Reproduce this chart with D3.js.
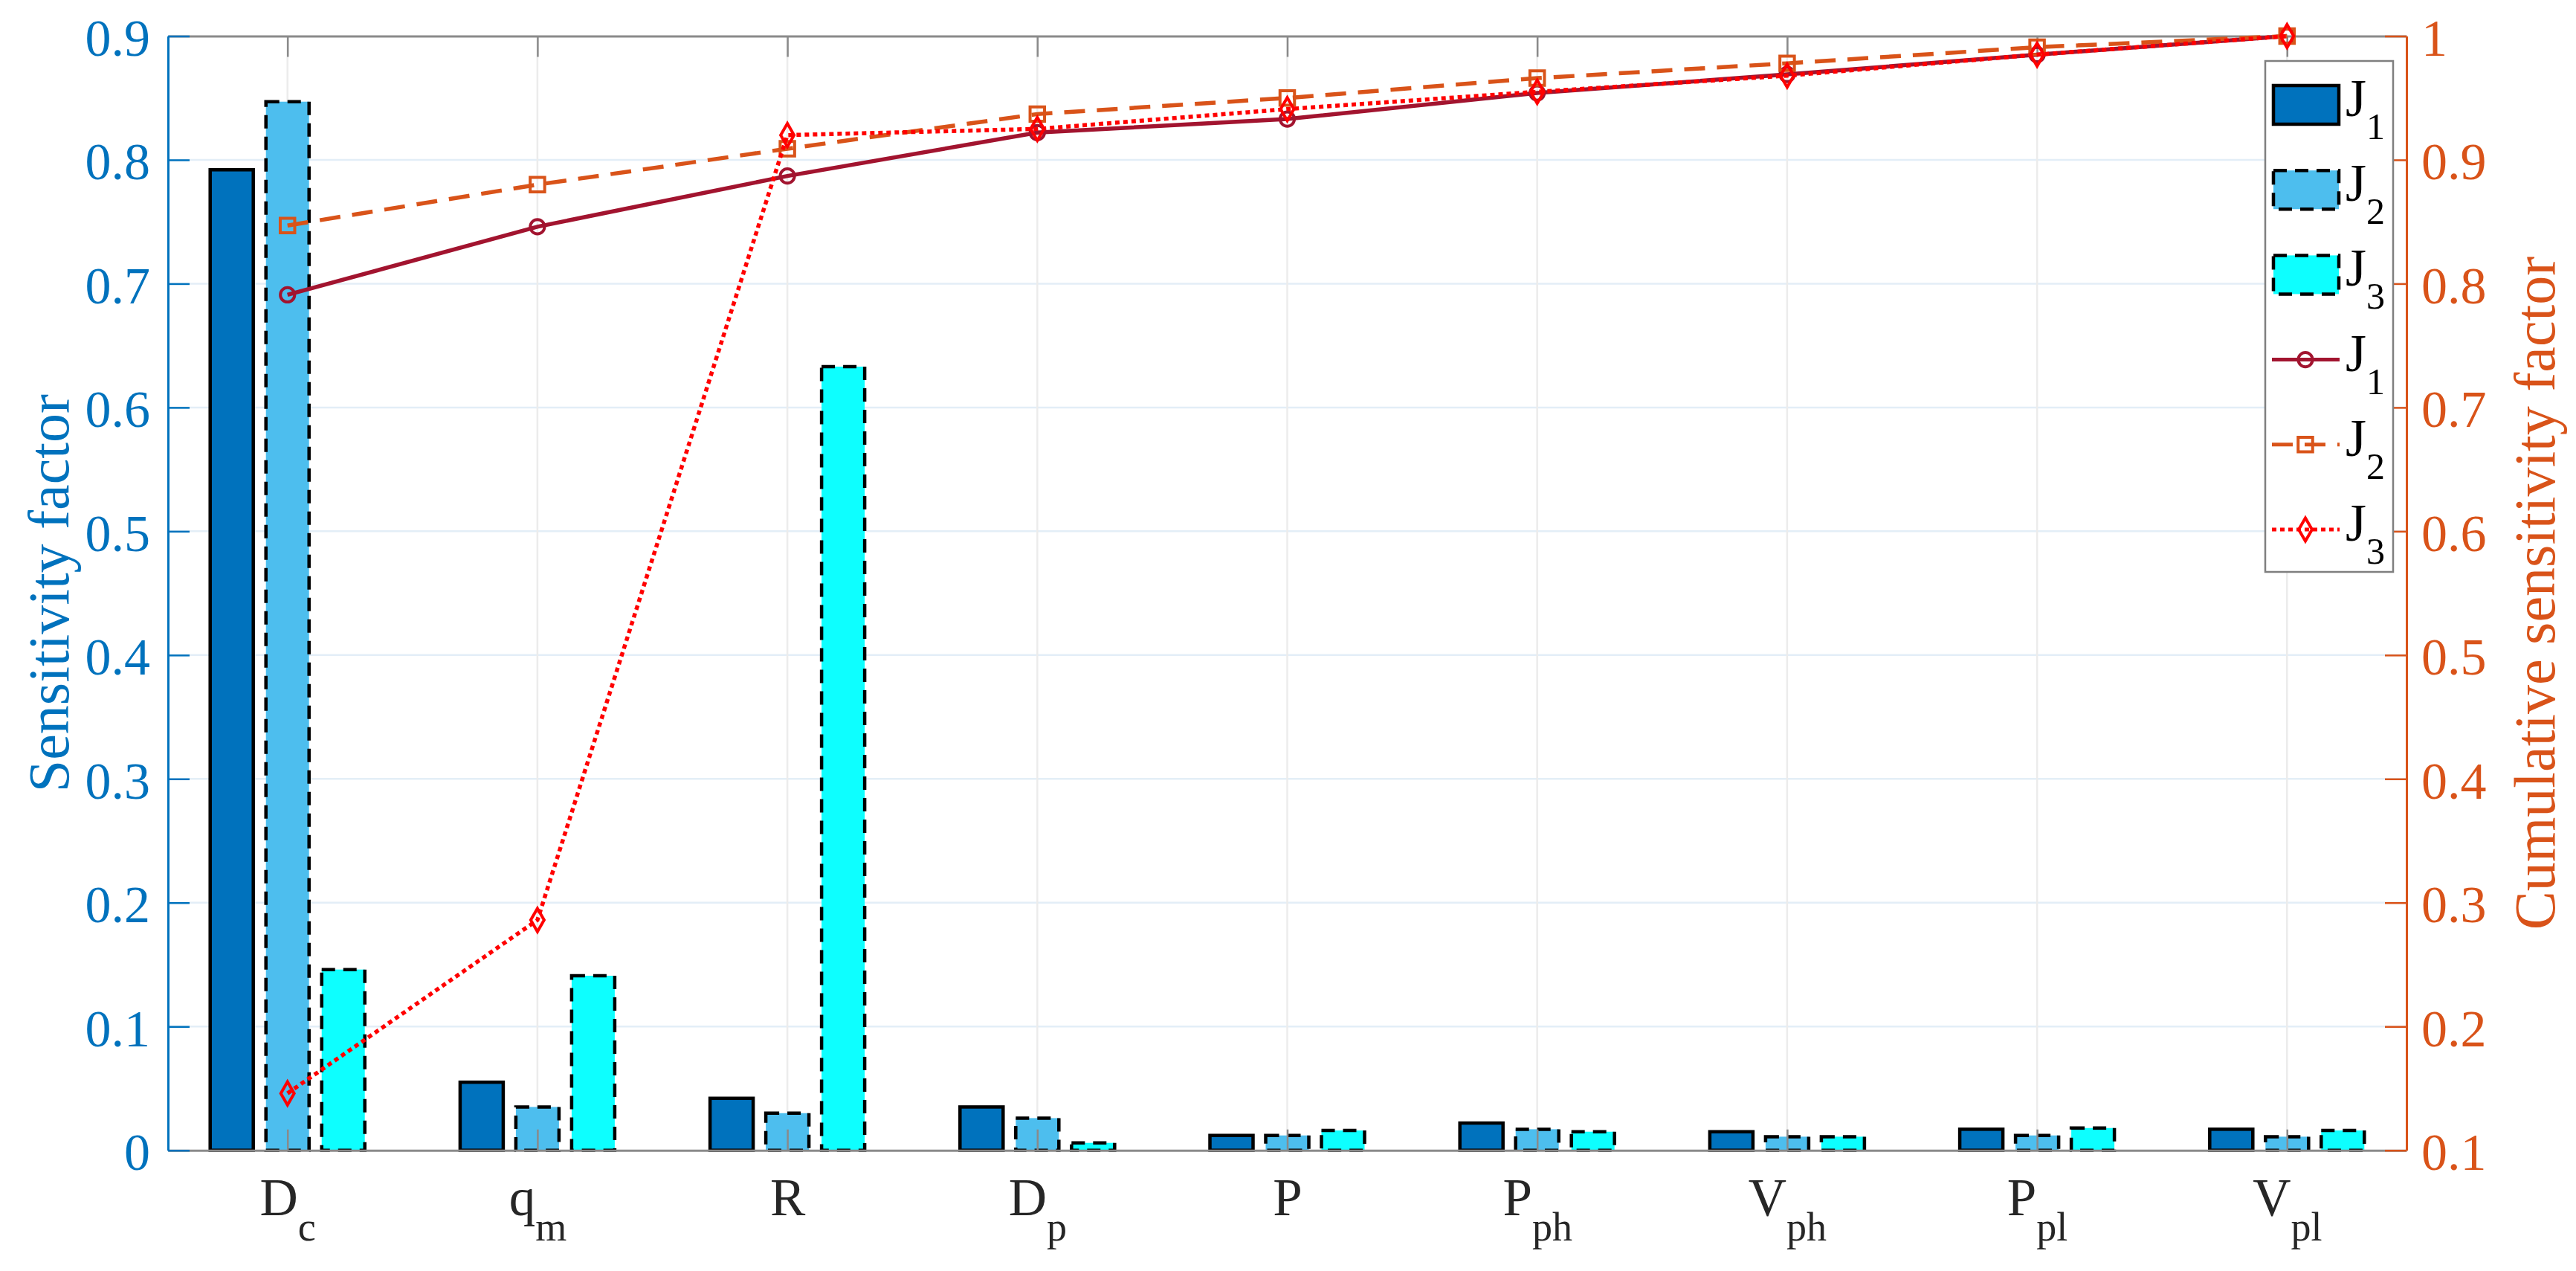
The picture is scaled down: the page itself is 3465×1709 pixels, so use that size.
<!DOCTYPE html>
<html><head><meta charset="utf-8">
<script src="https://cdn.jsdelivr.net/npm/d3@7"></script>
<style>html,body{margin:0;padding:0;background:#fff;} svg{display:block;}</style>
</head><body>
<svg id="chart" width="3465" height="1709"></svg>
<script>
// ---------- data ----------
const categories = ["Dc","qm","R","Dp","P","Pph","Vph","Ppl","Vpl"];
const catMain = ["D","q","R","D","P","P","V","P","V"];
const catSub  = ["c","m","","p","","ph","ph","pl","pl"];
const seriesNames = ["J1","J2","J3"];
const barJ1 = [0.792,0.055,0.042,0.035,0.012,0.022,0.015,0.017,0.017];
const barJ2 = [0.847,0.035,0.030,0.026,0.012,0.017,0.011,0.012,0.011];
const barJ3 = [0.146,0.141,0.633,0.006,0.016,0.015,0.011,0.018,0.016];
const cumJ1 = [0.791,0.846,0.887,0.922,0.933,0.954,0.969,0.985,1.0];
const cumJ2 = [0.847,0.880,0.909,0.937,0.950,0.966,0.978,0.991,1.0];
const cumJ3 = [0.146,0.286,0.920,0.925,0.941,0.955,0.968,0.985,1.0];
const leftTicks = [0,0.1,0.2,0.3,0.4,0.5,0.6,0.7,0.8,0.9];
const rightTicks = [0.1,0.2,0.3,0.4,0.5,0.6,0.7,0.8,0.9,1];
const leftLabel = "Sensitivity factor";
const rightLabel = "Cumulative sensitivity factor";
const legendMain = ["J","J","J","J","J","J"];
const legendSub = ["1","2","3","1","2","3"];

// ---------- layout / style ----------
const FONT = "'Liberation Serif','Times New Roman',serif";
const L = 226, R = 3237, T = 48.5, B = 1546.7;
const C_LEFT = "#0072BD", C_RIGHT = "#D95319", C_AX = "#8a8a8a";
const barFill = {J1:"#0072BD", J2:"#4DBEEE", J3:"#0DFFFF"};
const barDash = {J1:null, J2:"18,11", J3:"18,11"};
const lineColor = {J1:"#A2142F", J2:"#D95319", J3:"#FF0000"};
const lineDash = {J1:null, J2:"28,16", J3:"6,5"};
const lineSymbol = {J1:d3.symbolCircle, J2:d3.symbolSquare, J3:d3.symbolDiamond};
const symSize = {J1:290, J2:380, J3:280};

const barData = {J1:barJ1, J2:barJ2, J3:barJ3};
const cumData = {J1:cumJ1, J2:cumJ2, J3:cumJ3};

const svg = d3.select("#chart");
svg.append("rect").attr("width",3465).attr("height",1709).attr("fill","#fff");

const x = d3.scalePoint().domain(categories).range([L,R]).padding(0.478);
const xSub = d3.scalePoint().domain(seriesNames).range([-75,75]);
const yL = d3.scaleLinear().domain([0,0.9]).range([B,T]);
const yR = d3.scaleLinear().domain([0.1,1]).range([B,T]);
const BW = 58;

// grid
const grid = svg.append("g");
grid.selectAll("line.h").data(leftTicks.filter(d=>d>0 && d<0.9)).join("line")
  .attr("x1",L).attr("x2",R).attr("y1",d=>yL(d)).attr("y2",d=>yL(d))
  .attr("stroke","#e3eef7").attr("stroke-width",2.5);
grid.selectAll("line.v").data(categories).join("line")
  .attr("x1",d=>x(d)).attr("x2",d=>x(d)).attr("y1",T).attr("y2",B)
  .attr("stroke","#ececec").attr("stroke-width",2.5);

// bars
seriesNames.forEach(s=>{
  svg.append("g").selectAll("rect").data(barData[s]).join("rect")
    .attr("x",(d,i)=>x(categories[i])+xSub(s)-BW/2)
    .attr("width",BW)
    .attr("y",d=>yL(d))
    .attr("height",d=>B-yL(d))
    .attr("fill",barFill[s])
    .attr("stroke","#000").attr("stroke-width",4.5)
    .attr("stroke-dasharray",barDash[s]);
});

// axes
function styleAxis(g,color,w){
  g.select(".domain").attr("stroke",color).attr("stroke-width",w);
  g.selectAll(".tick line").attr("stroke",color).attr("stroke-width",2.5);
  g.selectAll(".tick text").attr("fill",color).attr("font-family",FONT).attr("font-size",70);
}
const gTop = svg.append("g").attr("transform",`translate(0,${T})`)
  .call(d3.axisTop(x).tickSize(-28).tickSizeOuter(0).tickFormat(""));
styleAxis(gTop,C_AX,3);
const gBot = svg.append("g").attr("transform",`translate(0,${B})`)
  .call(d3.axisBottom(x).tickSize(-28).tickSizeOuter(0).tickFormat(""));
styleAxis(gBot,C_AX,3);
gBot.selectAll(".tick text").remove();
gBot.selectAll(".tick").each(function(d,i){
  const t = d3.select(this).append("text").attr("y",87).attr("text-anchor","middle")
    .attr("font-family",FONT).attr("fill","#262626");
  t.append("tspan").attr("font-size",71).text(catMain[i]);
  if(catSub[i]) t.append("tspan").attr("font-size",54).attr("dy",34).text(catSub[i]);
});

const gLeft = svg.append("g").attr("transform",`translate(${L},0)`)
  .call(d3.axisLeft(yL).tickValues(leftTicks).tickSize(-29).tickSizeOuter(0).tickPadding(24).tickFormat(d3.format("~g")));
styleAxis(gLeft,C_LEFT,3);
gLeft.selectAll(".tick text").attr("dy","0.37em");
const gRight = svg.append("g").attr("transform",`translate(${R},0)`)
  .call(d3.axisRight(yR).tickValues(rightTicks).tickSize(-29).tickSizeOuter(0).tickPadding(20).tickFormat(d3.format("~g")));
styleAxis(gRight,C_RIGHT,3);
gRight.selectAll(".tick text").attr("dy","0.37em");

// axis labels
svg.append("text").attr("transform",`translate(92,${(T+B)/2}) rotate(-90)`)
  .attr("text-anchor","middle").attr("font-family",FONT).attr("font-size",78)
  .attr("fill",C_LEFT).text(leftLabel);
svg.append("text").attr("transform",`translate(3436,${(T+B)/2}) rotate(-90)`)
  .attr("text-anchor","middle").attr("font-family",FONT).attr("font-size",78)
  .attr("fill",C_RIGHT).text(rightLabel);

// cumulative lines
seriesNames.forEach(s=>{
  const line = d3.line().x((d,i)=>x(categories[i])).y(d=>yR(d));
  svg.append("path").datum(cumData[s]).attr("d",line)
    .attr("fill","none").attr("stroke",lineColor[s]).attr("stroke-width",5.5)
    .attr("stroke-dasharray",lineDash[s]);
  svg.append("g").selectAll("path").data(cumData[s]).join("path")
    .attr("transform",(d,i)=>`translate(${x(categories[i])},${yR(d)})`)
    .attr("d",d3.symbol().type(lineSymbol[s]).size(symSize[s]))
    .attr("fill","none").attr("stroke",lineColor[s]).attr("stroke-width",4);
});

// legend
const lg = svg.append("g");
lg.append("rect").attr("x",3047).attr("y",82).attr("width",172).attr("height",687)
  .attr("fill","#fff").attr("stroke","#7f7f7f").attr("stroke-width",2.5);
const rowY = d3.scalePoint().domain(d3.range(6)).range([141,712]);
const legendItems = [
  {type:"bar",s:"J1"},{type:"bar",s:"J2"},{type:"bar",s:"J3"},
  {type:"line",s:"J1"},{type:"line",s:"J2"},{type:"line",s:"J3"}];
legendItems.forEach((it,i)=>{
  const cy = rowY(i);
  if(it.type==="bar"){
    lg.append("rect").attr("x",3058).attr("y",cy-26).attr("width",88).attr("height",52)
      .attr("fill",barFill[it.s]).attr("stroke","#000").attr("stroke-width",4.5)
      .attr("stroke-dasharray",barDash[it.s]);
  } else {
    lg.append("line").attr("x1",3056).attr("x2",3147).attr("y1",cy).attr("y2",cy)
      .attr("stroke",lineColor[it.s]).attr("stroke-width",5).attr("stroke-dasharray",lineDash[it.s]);
    lg.append("path").attr("transform",`translate(3101,${cy})`)
      .attr("d",d3.symbol().type(lineSymbol[it.s]).size(symSize[it.s]))
      .attr("fill","none").attr("stroke",lineColor[it.s]).attr("stroke-width",4);
  }
  const t = lg.append("text").attr("x",3155).attr("y",cy+15).attr("font-family",FONT).attr("fill","#000");
  t.append("tspan").attr("font-size",72).text(legendMain[i]);
  t.append("tspan").attr("font-size",50).attr("dy",31).text(legendSub[i]);
});
</script>
</body></html>
